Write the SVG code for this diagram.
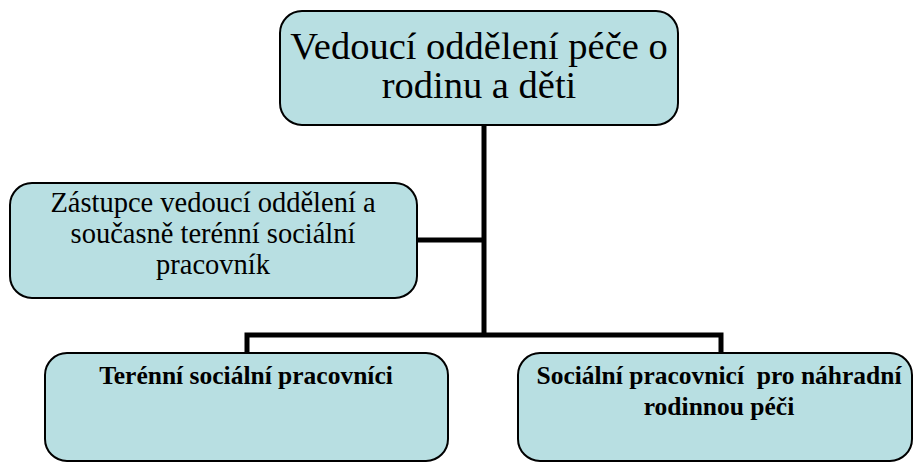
<svg xmlns="http://www.w3.org/2000/svg" width="916" height="463" viewBox="0 0 916 463">
<style>
.box{fill:#B8DFE2;stroke:#000;stroke-width:2}
.conn{stroke:#000;stroke-width:5;fill:none}
</style>
<rect width="916" height="463" fill="#fff"/>
<g id="connectors">
<path class="conn" d="M484 125 V335 M417 240 H484 M247 353 V335 H721 V353"/>
</g>
<g id="top" font-family="Liberation Serif, Times New Roman, serif" text-anchor="middle" font-size="38.5">
<rect class="box" x="280" y="11" width="398" height="114" rx="22"/>
<text x="479" y="59">Vedoucí oddělení péče o</text>
<text x="479" y="98">rodinu a děti</text>
</g>
<g id="deputy" font-family="Liberation Serif, Times New Roman, serif" text-anchor="middle" font-size="28.5">
<rect class="box" x="10" y="183" width="407" height="115" rx="22"/>
<text x="213" y="212">Zástupce vedoucí oddělení a</text>
<text x="213" y="243">současně terénní sociální</text>
<text x="213" y="274">pracovník</text>
</g>
<g id="field" font-family="Liberation Serif, Times New Roman, serif" text-anchor="middle" font-size="25.5" font-weight="bold">
<rect class="box" x="45" y="353" width="403" height="108" rx="22"/>
<text x="246" y="384">Terénní sociální pracovníci</text>
</g>
<g id="foster" font-family="Liberation Serif, Times New Roman, serif" text-anchor="middle" font-size="25.5" font-weight="bold">
<rect class="box" x="518" y="353" width="394" height="108" rx="22"/>
<text x="719" y="384" xml:space="preserve">Sociální pracovnicí  pro náhradní</text>
<text x="719" y="415">rodinnou péči</text>
</g>
</svg>
